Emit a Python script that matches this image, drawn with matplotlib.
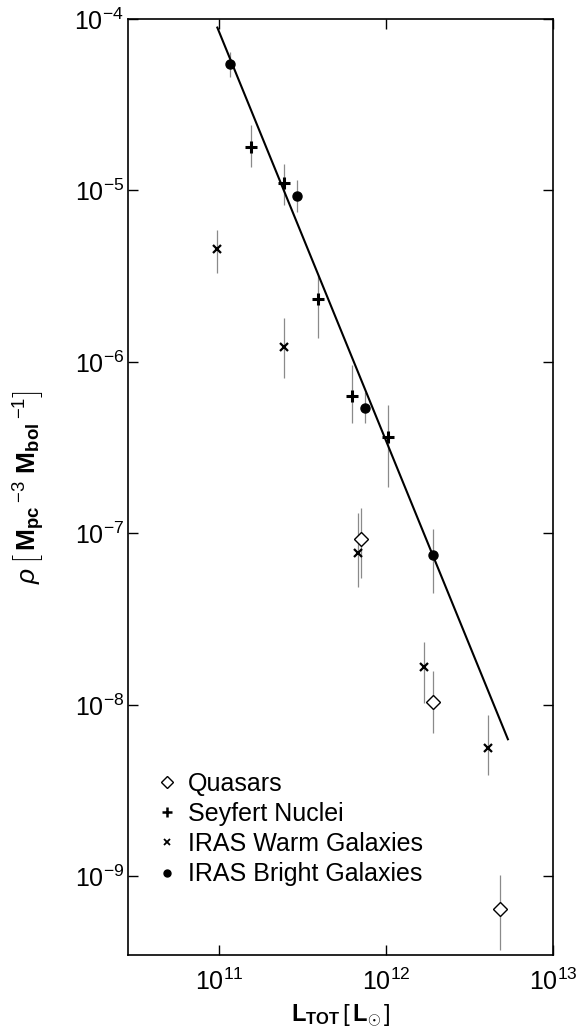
import matplotlib
matplotlib.use('Agg')
import numpy as np
import matplotlib.pyplot as plt
from matplotlib.lines import Line2D

plt.rcParams['font.family'] = ['Liberation Sans', 'DejaVu Sans']
plt.rcParams['mathtext.fontset'] = 'custom'
plt.rcParams['mathtext.rm'] = 'Liberation Sans'
plt.rcParams['mathtext.it'] = 'Liberation Sans:italic'
plt.rcParams['mathtext.bf'] = 'Liberation Sans:bold'

# log10 L_tot, log10 rho, and error bar ends (log10)
bright_L = [11.066, 11.465, 11.876, 12.283]
bright_rho = [-4.262, -5.032, -6.266, -7.125]
bright_hi = [-4.192, -4.939, -6.175, -6.974]
bright_lo = [-4.338, -5.125, -6.356, -7.347]

seyfert_L = [11.19, 11.389, 11.591, 11.796, 12.01]
seyfert_rho = [-4.745, -4.955, -5.633, -6.198, -6.439]
seyfert_hi = [-4.618, -4.845, -5.493, -6.017, -6.251]
seyfert_lo = [-4.863, -5.085, -5.860, -6.356, -6.729]

warm_L = [10.986, 11.391, 11.83, 12.228, 12.609]
warm_rho = [-5.343, -5.911, -7.112, -7.777, -8.249]
warm_hi = [-5.230, -5.743, -6.880, -7.633, -8.058]
warm_lo = [-5.481, -6.093, -7.312, -7.988, -8.408]

qso_L = [11.85, 12.28, 12.683]
qso_rho = [-7.034, -7.980, -9.191]
qso_hi = [-6.851, -7.802, -8.991]
qso_lo = [-7.259, -8.163, -9.429]

fit_L = [10.99, 12.73]
fit_rho = [-4.05, -8.20]

fig = plt.figure(figsize=(5.84, 10.33), dpi=100)
ax = fig.add_axes([128/584, 1 - 955/1033, 425/584, 936/1033])


def draw(L, rho, hi, lo, **kw):
    x = 10**np.array(L)
    y = 10**np.array(rho)
    yerr = [y - 10**np.array(lo), 10**np.array(hi) - y]
    ax.errorbar(x, y, yerr=yerr, fmt='none', ecolor='#8a8a8a', elinewidth=0.9, capsize=0, zorder=1)
    ax.plot(x, y, linestyle='none', zorder=3, **kw)


ax.plot(10**np.array(fit_L), 10**np.array(fit_rho), color='black', lw=1.5, zorder=2)

draw(qso_L, qso_rho, qso_hi, qso_lo, marker='D', ms=7, mfc='white', mec='black', mew=1.0)
draw(seyfert_L, seyfert_rho, seyfert_hi, seyfert_lo, marker='+', ms=8, mec='black', mew=2.2)
draw(warm_L, warm_rho, warm_hi, warm_lo, marker='x', ms=5.5, mec='black', mew=1.6)
draw(bright_L, bright_rho, bright_hi, bright_lo, marker='o', ms=6.5, mfc='black', mec='black')

ax.set_xscale('log')
ax.set_yscale('log')
ax.set_xlim(10**10.455, 1e13)
ax.set_ylim(10**-9.458, 1e-4)
ax.set_xticks([1e11, 1e12, 1e13])
ax.set_yticks([1e-9, 1e-8, 1e-7, 1e-6, 1e-5, 1e-4])
ax.minorticks_off()
ax.tick_params(which='major', direction='in', length=7, width=1.0,
               top=True, right=True, labelsize=18)
ax.tick_params(axis='x', pad=10)
ax.tick_params(axis='y', pad=3)
for s in ax.spines.values():
    s.set_linewidth(1.2)

ax.set_xlabel(r'$\mathbf{L}_{\mathbf{TOT}}\,\left[\,\mathbf{L}_{\odot}\,\right]$', fontsize=17, labelpad=5)
ax.set_ylabel(r'$\rho\,\left[\,\mathbf{M}_{\mathbf{pc}}\,^{-3}\ \mathbf{M}_{\mathbf{bol}}\,^{-1}\right]$', fontsize=19, labelpad=20)

handles = [
    Line2D([], [], ls='none', marker='D', ms=6, mfc='white', mec='black', mew=1.0),
    Line2D([], [], ls='none', marker='+', ms=7, mec='black', mew=1.8),
    Line2D([], [], ls='none', marker='x', ms=4, mec='black', mew=1.3),
    Line2D([], [], ls='none', marker='o', ms=5, mfc='black', mec='black'),
]
labels = ['Quasars', 'Seyfert Nuclei', 'IRAS Warm Galaxies', 'IRAS Bright Galaxies']
ax.legend(handles, labels, loc='upper left', bbox_to_anchor=(0.07, 0.196), frameon=False,
          fontsize=18, handlelength=0.7, handletextpad=0.5, labelspacing=0.25,
          borderpad=0, borderaxespad=0)

fig.savefig('out.png', dpi=100)
